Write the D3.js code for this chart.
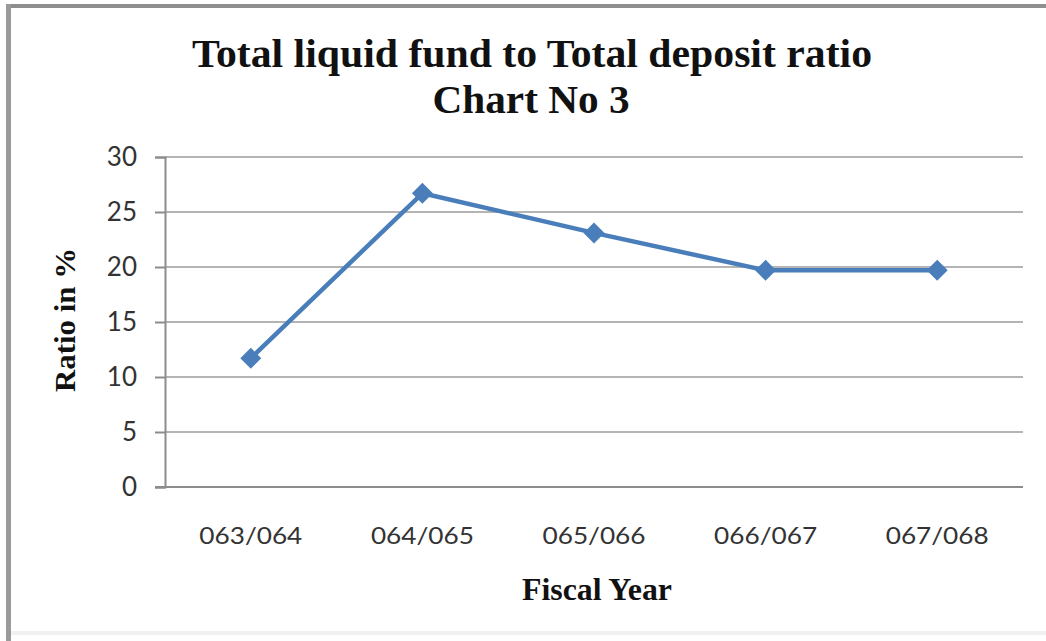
<!DOCTYPE html>
<html>
<head>
<meta charset="utf-8">
<script src="https://cdn.jsdelivr.net/npm/d3@7"></script>
<style>
  html, body { margin: 0; padding: 0; background: #fff; }
  svg { display: block; }
</style>
</head>
<body>
<svg id="chart" width="1046" height="641"></svg>
<script>
// Fiscal years and the liquid fund / deposit ratio (%)
const years = ["063/064", "064/065", "065/066", "066/067", "067/068"];
const ratios = [11.7, 26.7, 23.1, 19.7, 19.7];
const yTicks = [0, 5, 10, 15, 20, 25, 30];

const titleLines = ["Total liquid fund to Total deposit ratio", "Chart No 3"];
const xTitle = "Fiscal Year";
const yTitle = "Ratio in %";

const svg = d3.select("#chart");
const W = 1046, H = 641;
const plot = { left: 165, right: 1023, top: 157, bottom: 487 };

svg.append("rect").attr("width", W).attr("height", H).attr("fill", "#fff");

// frame edges (top and left) plus a faint lower strip
svg.append("rect").attr("x", 6).attr("y", 4).attr("width", W - 6).attr("height", 4).attr("fill", "#8e8e8e");
svg.append("rect").attr("x", 6).attr("y", 4).attr("width", 5).attr("height", H - 4).attr("fill", "#9a9a9a");
svg.append("rect").attr("x", 11).attr("y", 631).attr("width", W - 11).attr("height", 4).attr("fill", "#f1f1f1");

const x = d3.scaleBand().domain(years).range([plot.left, plot.right]);
const y = d3.scaleLinear().domain([0, 30]).range([plot.bottom, plot.top]);

// horizontal gridlines
svg.append("g")
  .selectAll("line")
  .data(yTicks.filter(d => d > 0))
  .join("line")
  .attr("x1", plot.left).attr("x2", plot.right)
  .attr("y1", d => y(d)).attr("y2", d => y(d))
  .attr("stroke", "#b4b4b4").attr("stroke-width", 2);

// y axis
const yAxis = svg.append("g")
  .attr("transform", `translate(${plot.left},0)`)
  .call(d3.axisLeft(y).tickValues(yTicks).tickSize(10).tickPadding(18));
yAxis.select(".domain").attr("stroke", "#8c8c8c").attr("stroke-width", 2);
yAxis.selectAll(".tick line").attr("stroke", "#8c8c8c").attr("stroke-width", 2);
yAxis.selectAll(".tick text")
  .attr("font-family", "Lato, 'Open Sans', sans-serif")
  .attr("font-size", 26).attr("fill", "#333");

// x axis
const xAxis = svg.append("g")
  .attr("transform", `translate(0,${plot.bottom})`)
  .call(d3.axisBottom(x).tickSize(0).tickPadding(40));
xAxis.select(".domain").attr("stroke", "#8c8c8c").attr("stroke-width", 2)
  .attr("d", `M${plot.left - 10},0H${plot.right}`);
xAxis.selectAll(".tick text")
  .attr("font-family", "Lato, 'Open Sans', sans-serif")
  .attr("font-size", 24).attr("fill", "#333")
  .attr("textLength", 103).attr("lengthAdjust", "spacingAndGlyphs");

// series line
const cx = d => x(d) + x.bandwidth() / 2;
const line = d3.line().x((d, i) => cx(years[i])).y(d => y(d));
svg.append("path")
  .datum(ratios)
  .attr("d", line)
  .attr("fill", "none")
  .attr("stroke", "#4a7ebb")
  .attr("stroke-width", 4.5)
  .attr("stroke-linejoin", "round");

// diamond markers
svg.append("g")
  .selectAll("path")
  .data(ratios)
  .join("path")
  .attr("d", d3.symbol().type(d3.symbolDiamond2).size(280))
  .attr("transform", (d, i) => `translate(${cx(years[i])},${y(d)})`)
  .attr("fill", "#4a7ebb");

// titles
svg.append("text")
  .attr("x", 532).attr("y", 67)
  .attr("text-anchor", "middle")
  .attr("font-family", "'Liberation Serif', 'Times New Roman', serif")
  .attr("font-weight", "bold").attr("font-size", 40).attr("fill", "#111")
  .attr("textLength", 680).attr("lengthAdjust", "spacingAndGlyphs")
  .text(titleLines[0]);
svg.append("text")
  .attr("x", 531).attr("y", 113)
  .attr("text-anchor", "middle")
  .attr("font-family", "'Liberation Serif', 'Times New Roman', serif")
  .attr("font-weight", "bold").attr("font-size", 40).attr("fill", "#111")
  .attr("textLength", 197).attr("lengthAdjust", "spacingAndGlyphs")
  .text(titleLines[1]);

svg.append("text")
  .attr("x", 597).attr("y", 600)
  .attr("text-anchor", "middle")
  .attr("font-family", "'Liberation Serif', 'Times New Roman', serif")
  .attr("font-weight", "bold").attr("font-size", 32).attr("fill", "#111")
  .attr("textLength", 150).attr("lengthAdjust", "spacingAndGlyphs")
  .text(xTitle);

svg.append("text")
  .attr("transform", "translate(75,320) rotate(-90)")
  .attr("text-anchor", "middle")
  .attr("font-family", "'Liberation Serif', 'Times New Roman', serif")
  .attr("font-weight", "bold").attr("font-size", 30).attr("fill", "#111")
  .attr("textLength", 144).attr("lengthAdjust", "spacingAndGlyphs")
  .text(yTitle);
</script>
</body>
</html>
